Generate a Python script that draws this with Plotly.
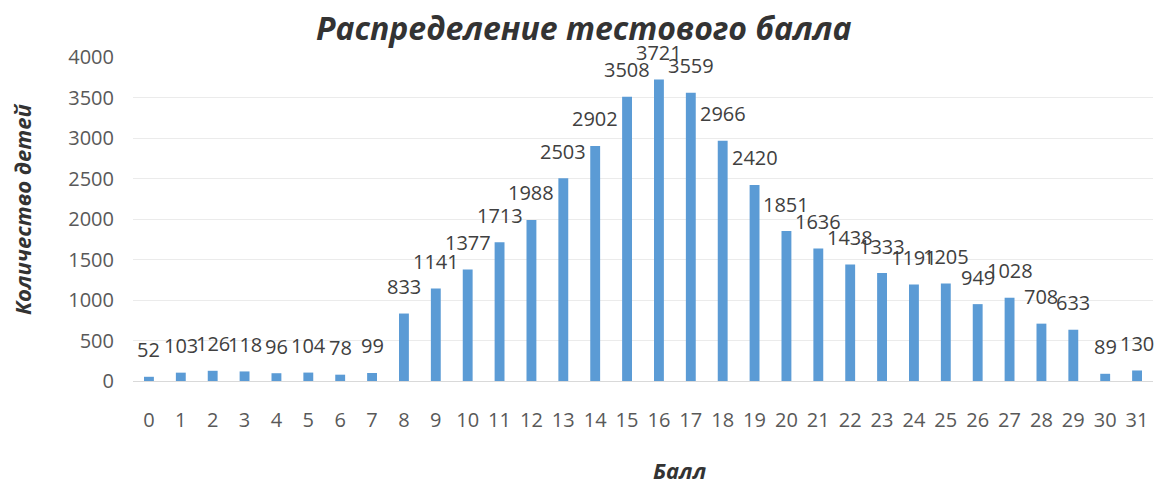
import plotly.graph_objects as go

scores = list(range(32))
counts = [52, 103, 126, 118, 96, 104, 78, 99, 833, 1141, 1377, 1713, 1988, 2503, 2902,
          3508, 3721, 3559, 2966, 2420, 1851, 1636, 1438, 1333, 1191, 1205, 949, 1028,
          708, 633, 89, 130]
y_ticks = [0, 500, 1000, 1500, 2000, 2500, 3000, 3500, 4000]

FONT = "Open Sans"
L, R, T, B = 133, 2, 57, 103
PW = 1155 - L - R
PH = 484 - T - B

fig = go.Figure(go.Bar(
    x=scores, y=counts,
    marker=dict(color="#5B9BD5", line=dict(width=0)),
    hoverinfo="x+y",
))

for s, c in zip(scores, counts):
    fig.add_annotation(x=s, y=c, text=str(c), showarrow=False,
                       xanchor="center", yanchor="middle", yshift=27,
                       font=dict(family=FONT, size=20, color="#404040"))

fig.update_layout(
    width=1155, height=484,
    margin=dict(l=L, r=R, t=T, b=B),
    paper_bgcolor="white", plot_bgcolor="white",
    bargap=0.69,
    showlegend=False,
    font=dict(family=FONT),
)
fig.update_xaxes(
    type="linear",
    tickmode="array", tickvals=scores, ticktext=[str(s) for s in scores],
    tickfont=dict(family=FONT, size=20, color="#595959"),
    ticks="outside", ticklen=21, tickcolor="rgba(0,0,0,0)",
    showgrid=False, showline=True, linecolor="#D9D9D9", linewidth=1,
    range=[-0.5, 31.5], zeroline=False,
)
fig.update_yaxes(
    range=[0, 4000], tickvals=y_ticks,
    tickfont=dict(family=FONT, size=20, color="#595959"),
    ticks="outside", ticklen=14, tickcolor="rgba(0,0,0,0)",
    showgrid=True, gridcolor="#EBEBEB", gridwidth=1,
    zeroline=False, showline=False,
)
fig.add_annotation(text="<b><i>Распределение тестового балла</i></b>",
                   xref="paper", yref="paper", x=(583 - L) / PW, y=1, yshift=T - 27,
                   showarrow=False, xanchor="center", yanchor="middle",
                   font=dict(family=FONT, size=32, color="#333333"))
fig.add_annotation(text="<b><i>Количество детей</i></b>",
                   xref="paper", yref="paper", x=0, xshift=22 - L,
                   y=1, yshift=-(209 - T),
                   showarrow=False, textangle=-90, xanchor="center", yanchor="middle",
                   font=dict(family=FONT, size=22, color="#333333"))
fig.add_annotation(text="<b><i>Балл</i></b>",
                   xref="paper", yref="paper", x=(680 - L) / PW, y=0, yshift=-(470 - T - PH),
                   showarrow=False, xanchor="center", yanchor="middle",
                   font=dict(family=FONT, size=22, color="#333333"))

fig.write_html("out.html", config={"displayModeBar": False},
               post_script="document.body.style.margin='0';")
